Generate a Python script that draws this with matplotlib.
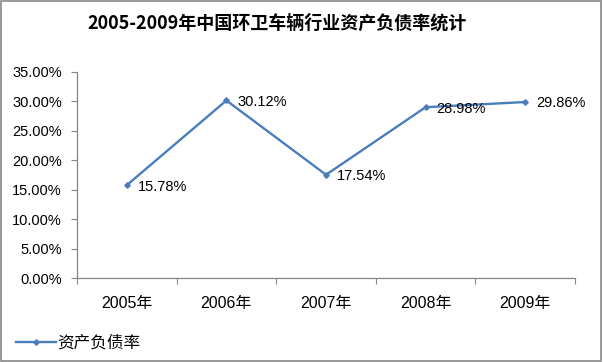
import matplotlib.pyplot as plt
from matplotlib.patches import Rectangle
from matplotlib.ticker import FuncFormatter

# data
years = ['2005年', '2006年', '2007年', '2008年', '2009年']
ratio = [15.78, 30.12, 17.54, 28.98, 29.86]
series_name = '资产负债率'
title = '2005-2009年中国环卫车辆行业资产负债率统计'

fonts = ['Liberation Sans', 'Noto Sans CJK SC', 'DejaVu Sans']
plt.rcParams['font.family'] = fonts

fig = plt.figure(figsize=(6.03, 3.62), dpi=100)
ax = fig.add_axes([0.1277, 0.2312, 0.8259, 0.5708])

blue = '#4a7ebb'
x = list(range(len(years)))
line, = ax.plot(x, ratio, color=blue, lw=1.7, marker='D', ms=2.8,
                label=series_name)

for xi, v in zip(x, ratio):
    ax.annotate(f'{v:.2f}%', (xi, v), xytext=(8, -1), textcoords='offset points',
                ha='left', va='center', fontsize=10.5, color='black')

ax.set_xlim(-0.5, len(years) - 0.5)
ax.set_ylim(0, 35)
ax.set_yticks([0, 5, 10, 15, 20, 25, 30, 35])
ax.yaxis.set_major_formatter(FuncFormatter(lambda v, p: f'{v:.2f}%'))
ax.set_xticks([i - 0.5 for i in range(len(years) + 1)])
ax.set_xticklabels([])
ax.set_xticks(x, minor=True)
ax.set_xticklabels(years, minor=True)

gray = '#868686'
for s in ['top', 'right']:
    ax.spines[s].set_visible(False)
for s in ['left', 'bottom']:
    ax.spines[s].set_color(gray)
    ax.spines[s].set_linewidth(0.9)

ax.tick_params(axis='y', length=4, color=gray, labelsize=10.5, pad=7)
ax.tick_params(axis='x', which='major', length=4, color=gray)
ax.tick_params(axis='x', which='minor', length=0, labelsize=11.5, pad=13)

fig.text(0.46, 0.935, title, ha='center', va='center', fontsize=13,
         fontweight='bold', family=['Noto Sans CJK SC', 'DejaVu Sans'])

fig.legend(handles=[line], loc='center left', bbox_to_anchor=(0.015, 0.052),
           frameon=False, fontsize=12, handlelength=2.4, handletextpad=0.1,
           borderaxespad=0)

fig.patches.append(Rectangle((0.002, 0.003), 0.995, 0.993, transform=fig.transFigure,
                             fill=False, edgecolor='#888888', lw=1.2))

fig.savefig('out.png', dpi=100)
